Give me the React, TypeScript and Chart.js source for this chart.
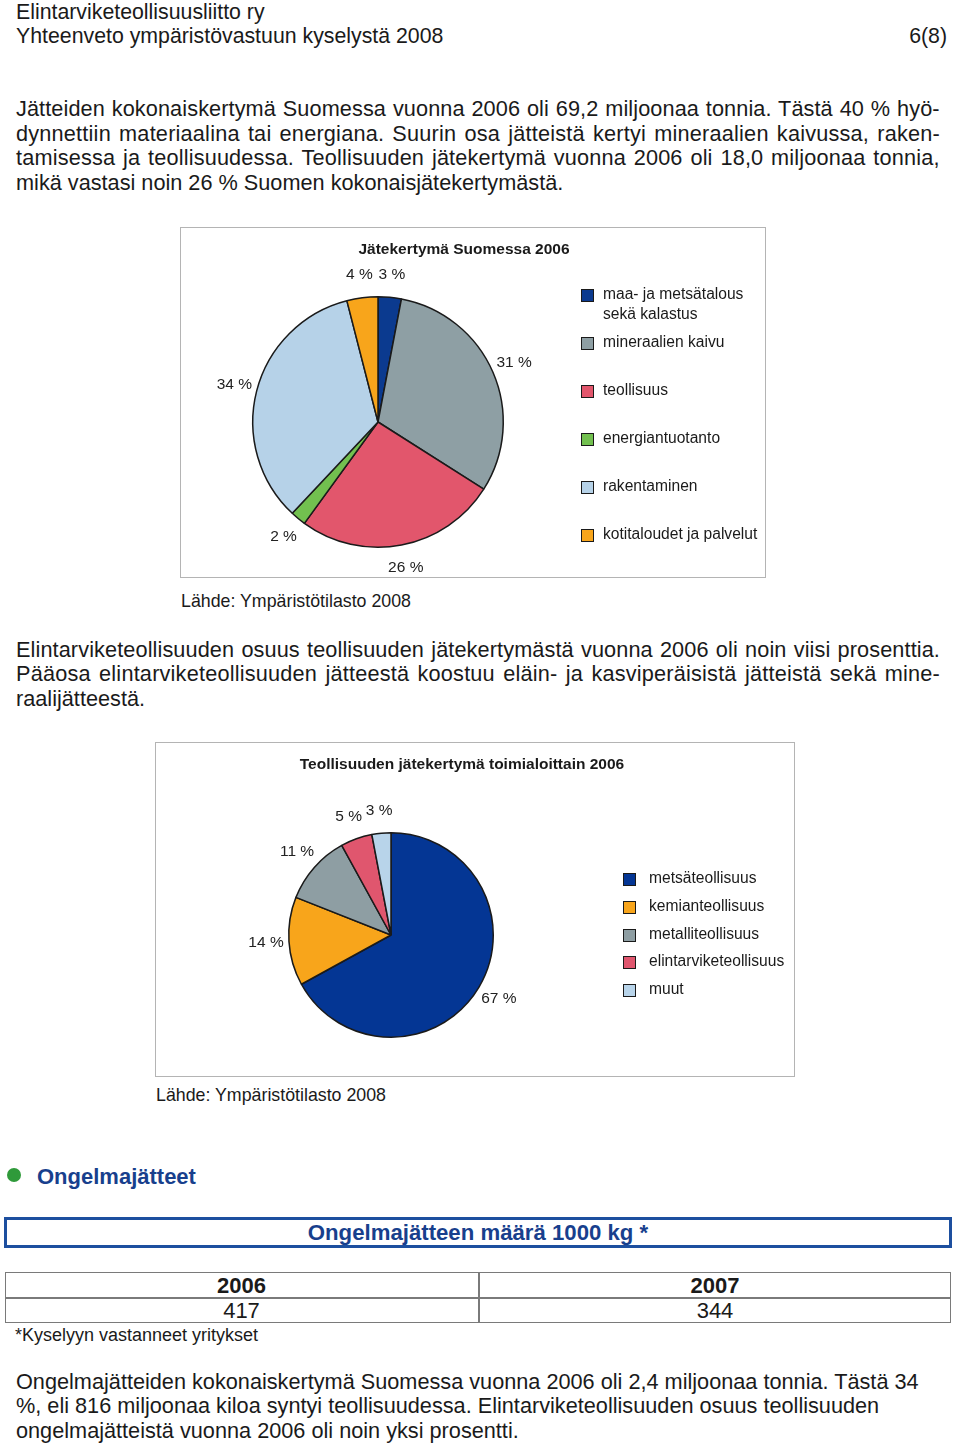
import React, { useEffect, useRef } from "react";
import { Chart, registerables } from "chart.js";

Chart.register(...registerables);

// ---------- data ----------
const chart1Title = "Jätekertymä Suomessa 2006";
const chart1Labels = [
  "maa- ja metsätalous sekä kalastus",
  "mineraalien kaivu",
  "teollisuus",
  "energiantuotanto",
  "rakentaminen",
  "kotitaloudet ja palvelut",
];
const chart1LegendLines = [
  ["maa- ja metsätalous", "sekä kalastus"],
  ["mineraalien kaivu"],
  ["teollisuus"],
  ["energiantuotanto"],
  ["rakentaminen"],
  ["kotitaloudet ja palvelut"],
];
const chart1Values = [3, 31, 26, 2, 34, 4];
const chart1Colors = ["#0b3a8f", "#8e9fa4", "#e2566c", "#72c04f", "#b6d2e8", "#f8a51b"];

const chart2Title = "Teollisuuden jätekertymä toimialoittain 2006";
const chart2Labels = [
  "metsäteollisuus",
  "kemianteollisuus",
  "metalliteollisuus",
  "elintarviketeollisuus",
  "muut",
];
const chart2Values = [67, 14, 11, 5, 3];
const chart2Colors = ["#043694", "#f8a51b", "#8e9ea3", "#e0566e", "#b8d4ea"];

const sourceText = "Lähde: Ympäristötilasto 2008";
const tableYears = ["2006", "2007"];
const tableValues = ["417", "344"];

const FONT = '"Liberation Sans", Arial, Helvetica, sans-serif';
const TEXT = "#1a1a1a";
const BLUE = "#183f8d";
const BODY = 21.7;

// ---------- plugin ----------
const pctLabels = {
  id: "pctLabels",
  afterDatasetsDraw(chart: any, _args: any, opts: any) {
    const ctx = chart.ctx;
    const meta = chart.getDatasetMeta(0);
    const data = chart.data.datasets[0].data;
    ctx.save();
    ctx.font = "15.5px " + FONT;
    ctx.fillStyle = "#222";
    ctx.textAlign = "center";
    ctx.textBaseline = "middle";
    meta.data.forEach((arc: any, i: number) => {
      const p = arc.getProps(["x", "y", "startAngle", "endAngle", "outerRadius"], true);
      const mid = (p.startAngle + p.endAngle) / 2;
      const r = p.outerRadius + (opts.offset ?? 24);
      ctx.fillText(data[i] + " %", p.x + Math.cos(mid) * r, p.y + Math.sin(mid) * r);
    });
    ctx.restore();
  },
};

function PieCanvas(props: {
  width: number;
  height: number;
  labels: string[];
  values: number[];
  colors: string[];
  padding: { left: number; right: number; top: number; bottom: number };
  offset: number;
}) {
  const ref = useRef<HTMLCanvasElement | null>(null);
  useEffect(() => {
    if (!ref.current) return;
    const chart = new Chart(ref.current, {
      type: "pie",
      data: {
        labels: props.labels,
        datasets: [
          {
            data: props.values,
            backgroundColor: props.colors,
            borderColor: "#1a1a1a",
            borderWidth: 1.5,
          },
        ],
      },
      options: {
        responsive: false,
        animation: false,
        layout: { padding: props.padding },
        plugins: {
          legend: { display: false },
          tooltip: { enabled: false },
          title: { display: false },
          // @ts-ignore
          pctLabels: { offset: props.offset },
        },
      },
      plugins: [pctLabels],
    } as any);
    return () => chart.destroy();
  }, []);
  return (
    <canvas
      ref={ref}
      width={props.width}
      height={props.height}
      style={{ display: "block", width: props.width, height: props.height }}
    />
  );
}

let measureCtx: CanvasRenderingContext2D | null = null;
function measure(text: string, size: number, bold?: boolean) {
  if (!measureCtx) measureCtx = document.createElement("canvas").getContext("2d");
  if (!measureCtx) return 0;
  measureCtx.font = (bold ? "bold " : "") + size + "px " + FONT;
  return measureCtx.measureText(text).width;
}

function T(props: {
  x: number;
  y: number; // vertical center
  size: number;
  text: string;
  bold?: boolean;
  color?: string;
  width?: number;
  justify?: boolean;
  align?: "left" | "right" | "center";
}) {
  const lh = Math.round(props.size * 1.2);
  const style: any = {
    position: "absolute",
    left: props.x,
    top: props.y - lh / 2,
    fontSize: props.size,
    lineHeight: lh + "px",
    fontFamily: FONT,
    fontWeight: props.bold ? "bold" : "normal",
    color: props.color ?? TEXT,
    whiteSpace: "nowrap",
  };
  if (props.width !== undefined) style.width = props.width;
  if (props.justify && props.width !== undefined) {
    const natural = measure(props.text, props.size, props.bold);
    const gaps = (props.text.match(/ /g) || []).length;
    const extra = props.width - natural;
    // split stretching between letters and words
    const chars = props.text.length;
    const ls = (extra * 0.5) / chars;
    const ws = gaps > 0 ? (extra * 0.5) / gaps : 0;
    style.letterSpacing = ls + "px";
    style.wordSpacing = ws + "px";
  } else if (props.align) {
    style.textAlign = props.align;
  }
  return <div style={style}>{props.text}</div>;
}

function Square(props: { x: number; y: number; color: string }) {
  return (
    <div
      style={{
        position: "absolute",
        left: props.x,
        top: props.y - 7,
        width: 11,
        height: 11,
        background: props.color,
        border: "1.5px solid #1a1a1a",
      }}
    />
  );
}

const para1 = [
  "Jätteiden kokonaiskertymä Suomessa vuonna 2006 oli 69,2 miljoonaa tonnia. Tästä 40 % hyö-",
  "dynnettiin materiaalina tai energiana. Suurin osa jätteistä kertyi mineraalien kaivussa, raken-",
  "tamisessa ja teollisuudessa. Teollisuuden jätekertymä vuonna 2006 oli 18,0 miljoonaa tonnia,",
  "mikä vastasi noin 26 % Suomen kokonaisjätekertymästä.",
];
const para2 = [
  "Elintarviketeollisuuden osuus teollisuuden jätekertymästä vuonna 2006 oli noin viisi prosenttia.",
  "Pääosa elintarviketeollisuuden jätteestä koostuu eläin- ja kasviperäisistä jätteistä sekä mine-",
  "raalijätteestä.",
];
const para3 = [
  "Ongelmajätteiden kokonaiskertymä Suomessa vuonna 2006 oli 2,4 miljoonaa tonnia. Tästä 34",
  "%, eli 816 miljoonaa kiloa syntyi teollisuudessa. Elintarviketeollisuuden osuus teollisuuden",
  "ongelmajätteistä vuonna 2006 oli noin yksi prosentti.",
];

export default function App() {
  useEffect(() => {
    document.body.style.margin = "0";
  }, []);

  const legend1Y = [296, 344, 392, 440, 488, 536];
  const legend2Y = [880, 908, 936, 963, 991];

  return (
    <div
      style={{
        position: "absolute",
        left: 0,
        top: 0,
        width: 960,
        height: 1446,
        background: "#fff",
        overflow: "hidden",
        fontFamily: FONT,
      }}
    >
      {/* header */}
      <T x={16} y={12} size={21.3} text="Elintarviketeollisuusliitto ry" />
      <T x={16} y={36} size={21.3} text="Yhteenveto ympäristövastuun kyselystä 2008" />
      <T x={847} y={36} size={21.3} width={100} align="right" text="6(8)" />

      {/* paragraph 1 */}
      {para1.map((line, i) => (
        <T
          key={"p1" + i}
          x={16}
          y={109 + i * 24.7}
          size={BODY}
          text={line}
          width={924}
          justify={i < para1.length - 1}
        />
      ))}

      {/* chart 1 box */}
      <div
        style={{
          position: "absolute",
          left: 180,
          top: 227,
          width: 584,
          height: 349,
          border: "1px solid #b4b4b4",
        }}
      >
        <PieCanvas
          width={584}
          height={349}
          labels={chart1Labels}
          values={chart1Values}
          colors={chart1Colors}
          padding={{ left: 71, right: 261, top: 68, bottom: 29 }}
          offset={23}
        />
      </div>
      <T x={264} y={248} size={15.5} bold width={400} align="center" text={chart1Title} />
      {chart1LegendLines.map((lines, i) => (
        <React.Fragment key={"l1" + i}>
          <Square x={581} y={legend1Y[i]} color={chart1Colors[i]} />
          {lines.map((ln, j) => (
            <T key={j} x={603} y={legend1Y[i] - 3 + j * 20} size={15.6} text={ln} />
          ))}
        </React.Fragment>
      ))}
      <T x={181} y={601} size={17.8} text={sourceText} />

      {/* paragraph 2 */}
      {para2.map((line, i) => (
        <T
          key={"p2" + i}
          x={16}
          y={650 + i * 24.3}
          size={BODY}
          text={line}
          width={924}
          justify={i < para2.length - 1}
        />
      ))}

      {/* chart 2 box */}
      <div
        style={{
          position: "absolute",
          left: 155,
          top: 742,
          width: 638,
          height: 333,
          border: "1px solid #b4b4b4",
        }}
      >
        <PieCanvas
          width={638}
          height={333}
          labels={chart2Labels}
          values={chart2Values}
          colors={chart2Colors}
          padding={{ left: 132, right: 300, top: 89, bottom: 38 }}
          offset={23}
        />
      </div>
      <T x={262} y={763} size={15.5} bold width={400} align="center" text={chart2Title} />
      {chart2Labels.map((lab, i) => (
        <React.Fragment key={"l2" + i}>
          <Square x={623} y={legend2Y[i]} color={chart2Colors[i]} />
          <T x={649} y={legend2Y[i] - 3} size={15.6} text={lab} />
        </React.Fragment>
      ))}
      <T x={156} y={1095} size={17.8} text={sourceText} />

      {/* Ongelmajätteet heading */}
      <div
        style={{
          position: "absolute",
          left: 7,
          top: 1168,
          width: 14,
          height: 14,
          borderRadius: "50%",
          background: "#2f9a3a",
        }}
      />
      <T x={37} y={1177} size={22} bold color={BLUE} text="Ongelmajätteet" />

      {/* blue title box */}
      <div
        style={{
          position: "absolute",
          left: 4,
          top: 1217,
          width: 942,
          height: 25,
          border: "3px solid #1d4f9f",
        }}
      />
      <T x={4} y={1232} size={22.2} bold color={BLUE} width={948} align="center" text="Ongelmajätteen määrä 1000 kg *" />

      {/* table */}
      <div
        style={{
          position: "absolute",
          left: 5,
          top: 1272,
          width: 944,
          height: 49,
          border: "1.5px solid #7a7a7a",
        }}
      />
      <div style={{ position: "absolute", left: 5, top: 1297, width: 946, height: 1.5, background: "#7a7a7a" }} />
      <div style={{ position: "absolute", left: 478, top: 1272, width: 1.5, height: 51, background: "#7a7a7a" }} />
      <T x={5} y={1286} size={22} bold width={473} align="center" text={tableYears[0]} />
      <T x={479} y={1286} size={22} bold width={472} align="center" text={tableYears[1]} />
      <T x={5} y={1311} size={22} width={473} align="center" text={tableValues[0]} />
      <T x={479} y={1311} size={22} width={472} align="center" text={tableValues[1]} />
      <T x={15} y={1335} size={18} text="*Kyselyyn vastanneet yritykset" />

      {/* paragraph 3 */}
      {para3.map((line, i) => (
        <T key={"p3" + i} x={16} y={1382 + i * 24.3} size={BODY} text={line} />
      ))}
    </div>
  );
}
